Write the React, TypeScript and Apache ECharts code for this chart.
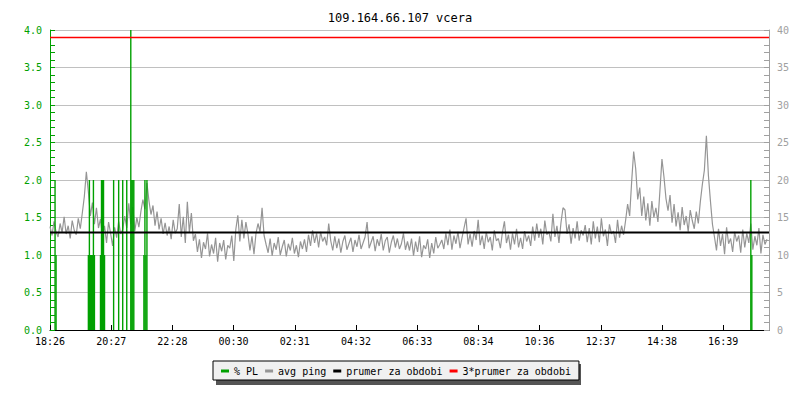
import React, { useEffect, useRef } from "react";
import * as echarts from "echarts";

const titleText = "109.164.66.107 vcera";
const timeLabels = ["18:26", "20:27", "22:28", "00:30", "02:31", "04:32", "06:33", "08:34", "10:36", "12:37", "14:38", "16:39"];
const tickStepMin = 121.2;
const xMaxMin = 1424;
const pingStepMin = 4;

// avg ping (ms), one value every 4 minutes from 18:26
const avgPing = [
  13.8, 12.6, 14.5, 13.1, 12.4, 14.2, 13.0, 15.1, 12.8, 13.9, 12.2, 14.6, 13.3, 12.7, 14.9, 13.5, 15.6,
  17.8, 21.1, 18.4,
  15.2, 17.0, 14.1, 16.3, 13.6,
  14.8, 12.5, 13.9, 11.6, 14.4, 12.9, 11.2, 13.7, 12.3, 14.5, 12.8, 13.4,
  15.2, 13.6, 16.9, 14.1, 16.4,
  13.2, 15.0, 13.7,
  15.8, 17.4, 16.1, 19.6,
  17.2, 15.4, 16.6, 13.9, 15.8, 13.4, 14.9, 12.8,
  14.3, 12.6, 13.8, 12.1, 14.7, 12.9, 13.5,
  16.8, 12.4, 15.1, 11.6, 17.1, 13.0, 15.6, 11.9,
  12.8, 10.4, 12.1, 9.6, 11.7, 10.8, 12.9, 9.8, 11.4, 10.2, 12.3, 9.1, 11.6, 10.5, 12.0, 9.4, 11.3, 10.9,
  12.6, 9.2, 13.4, 15.3, 11.8,
  14.7, 12.2, 14.4, 12.8,
  10.6, 12.5, 10.1, 12.9,
  14.2, 13.1, 16.3, 12.6,
  11.4, 10.3, 12.2, 9.9, 11.6, 10.7, 12.4, 10.0, 11.1, 12.0, 9.8, 11.5, 10.6, 12.3, 10.2, 11.3, 9.7, 11.8, 10.8, 12.1, 10.4,
  12.7, 11.2, 13.3, 11.6, 12.9, 11.0, 13.1, 11.8, 12.4, 11.3, 14.2,
  11.9, 10.6, 12.5, 10.9, 12.2, 10.3, 11.8, 12.6, 10.7, 11.5, 12.3, 10.4, 12.0, 11.1, 12.7, 10.8, 11.6, 12.4, 14.4, 10.9,
  11.7, 12.5, 10.5, 12.1, 11.2, 12.8, 10.6, 11.9, 12.4, 10.3, 11.7, 12.6, 11.0, 12.2, 10.8, 11.5, 12.9, 10.7, 11.8,
  10.6, 12.2, 9.9, 11.8, 10.4, 12.5, 9.7, 11.3, 10.8, 12.1, 9.6, 11.6, 10.2, 12.4, 10.9, 11.4, 12.0,
  10.8, 12.9, 11.3, 13.4, 10.7, 12.6, 11.5, 13.1, 10.9, 12.3, 13.6, 14.9, 11.4, 12.8, 11.1, 13.2, 12.0,
  14.7, 11.3, 12.6, 10.8, 13.1, 11.7, 12.4, 10.6, 13.3, 11.9, 12.2, 10.9, 13.0, 14.5, 11.6, 12.7, 10.7, 12.9, 11.4, 13.5,
  11.0, 12.3, 10.8, 13.2, 11.8, 12.6, 11.2,
  13.8, 11.9, 14.2, 12.3, 13.5, 11.4, 14.6, 12.7, 13.1, 11.8, 15.5, 12.4, 13.9, 11.6, 14.3, 16.3, 16.0, 12.8, 14.1, 11.5,
  13.6, 12.2, 14.5, 11.9, 13.3, 12.6, 14.0, 11.7,
  13.6, 11.4, 14.5, 12.2, 13.8, 11.7, 14.9, 12.5, 13.4, 11.2, 14.1, 12.8, 13.2, 11.6, 14.7, 12.3, 13.9, 12.7,
  14.6, 16.8, 15.2,
  19.8, 23.8, 21.5,
  17.4, 19.0, 15.2, 17.8, 14.6, 16.9, 13.9, 17.2, 15.0, 16.3, 14.4,
  18.6, 22.8, 20.4, 17.5,
  15.9, 18.0, 14.3, 16.8, 13.8,
  15.7, 13.3, 16.4, 14.0, 15.2, 13.1, 16.0, 14.6, 13.5, 15.8, 14.2,
  17.1, 19.4, 21.3,
  25.9,
  20.6, 17.2, 14.1,
  12.4, 10.6, 13.5, 11.2, 12.8, 10.1, 13.7, 11.5, 12.2, 10.4, 13.1, 11.8, 12.6, 10.3, 13.4, 11.0, 12.9, 11.6, 14.2, 10.7,
  12.5, 11.3, 13.6, 10.2, 12.7, 11.4, 12.1,
];

// packet loss (%) samples, minutes from 18:26
const plMinutes = [10, 12, 76, 78, 80, 82, 84, 86, 88, 100, 102, 104, 106, 108, 126, 136, 144, 152, 160, 162, 164, 166, 186, 188, 190, 192, 1388, 1390];
const plValues = [2, 1, 1, 2, 1, 1, 1, 2, 1, 1, 2, 2, 2, 1, 2, 2, 2, 2, 4, 2, 2, 2, 1, 2, 1, 2, 2, 1];

const periodAvg = 13.0;

const GREEN = "#00a000";
const GRAY = "#959595";
const AXGRAY = "#a0a0a0";
const RED = "#ff0000";
const FONT = "DejaVu Sans Mono";

export default function App() {
  const ref = useRef<HTMLDivElement>(null);
  useEffect(() => {
    if (!ref.current) return;
    const chart = echarts.init(ref.current, null, { renderer: "svg" });
    const pingData = avgPing.map((v, i) => [i * pingStepMin, v]);
    const plData = plMinutes.map((m, i) => [m, plValues[i]]);
    chart.setOption({
      animation: false,
      backgroundColor: "#ffffff",
      title: {
        text: titleText,
        left: "center",
        top: 7,
        textStyle: { fontFamily: FONT, fontSize: 12, fontWeight: "normal", color: "#000" },
      },
      grid: { left: 50, right: 31, top: 30, bottom: 70, containLabel: false },
      legend: {
        left: 213,
        top: 361,
        padding: [5, 8, 4, 8],
        itemGap: 7,
        itemWidth: 8,
        itemHeight: 3,
        icon: "rect",
        backgroundColor: "#f0f0f0",
        borderColor: "#000",
        borderWidth: 1,
        textStyle: { fontFamily: FONT, fontSize: 10, color: "#000" },
        data: ["% PL", "avg ping", "prumer za obdobi", "3*prumer za obdobi"],
      },
      graphic: [
        { type: "rect", shape: { x: 216, y: 364, width: 365, height: 21 }, style: { fill: "#555" }, z: 0 },
      ],
      xAxis: {
        type: "value",
        min: 0,
        max: xMaxMin,
        interval: tickStepMin,
        axisLine: { show: true, lineStyle: { color: "#000", width: 1 } },
        axisTick: { show: true, inside: true, length: 5, lineStyle: { color: "#000" } },
        splitLine: { show: false },
        axisLabel: {
          showMaxLabel: false,
          margin: 6,
          fontFamily: FONT,
          fontSize: 10,
          color: "#000",
          formatter: (v: number) => {
            const idx = Math.round(v / tickStepMin);
            if (Math.abs(v - idx * tickStepMin) > 0.5) return "";
            return timeLabels[idx] ?? "";
          },
        },
      },
      yAxis: [
        {
          type: "value",
          min: 0,
          max: 4,
          interval: 0.5,
          position: "left",
          axisLine: { show: true, lineStyle: { color: GREEN } },
          axisTick: { show: true, inside: true, length: 5, lineStyle: { color: GREEN } },
          minorTick: { show: true, splitNumber: 5, length: 5, lineStyle: { color: GREEN } },
          splitLine: { show: true, lineStyle: { color: "#c0c0c0", width: 1 } },
          axisLabel: {
            margin: 8,
            fontFamily: FONT,
            fontSize: 10,
            color: GREEN,
            formatter: (v: number) => v.toFixed(1),
          },
        },
        {
          type: "value",
          min: 0,
          max: 40,
          interval: 5,
          position: "right",
          axisLine: { show: true, lineStyle: { color: AXGRAY } },
          axisTick: { show: true, inside: true, length: 5, lineStyle: { color: AXGRAY } },
          minorTick: { show: true, splitNumber: 5, length: 5, lineStyle: { color: AXGRAY } },
          splitLine: { show: false },
          axisLabel: { margin: 8, fontFamily: FONT, fontSize: 10, color: AXGRAY },
        },
      ],
      series: [
        {
          name: "avg ping",
          type: "line",
          yAxisIndex: 1,
          data: pingData,
          symbol: "none",
          color: GRAY,
          lineStyle: { color: GRAY, width: 1.2 },
          z: 2,
        },
        {
          name: "% PL",
          type: "bar",
          yAxisIndex: 0,
          data: plData,
          barWidth: 1.4,
          color: GREEN,
          itemStyle: { color: GREEN },
          z: 3,
        },
        {
          name: "prumer za obdobi",
          type: "line",
          yAxisIndex: 1,
          data: [[0, periodAvg], [xMaxMin, periodAvg]],
          symbol: "none",
          color: "#000",
          lineStyle: { color: "#000", width: 2 },
          z: 4,
        },
        {
          name: "3*prumer za obdobi",
          type: "line",
          yAxisIndex: 1,
          data: [[0, 3 * periodAvg], [xMaxMin, 3 * periodAvg]],
          symbol: "none",
          color: RED,
          itemStyle: { color: RED },
          lineStyle: { color: RED, width: 1.5 },
          z: 4,
        },
      ],
    });
    return () => chart.dispose();
  }, []);
  return (
    <div
      ref={ref}
      style={{ position: "absolute", left: 0, top: 0, width: 800, height: 400, background: "#fff" }}
    />
  );
}
